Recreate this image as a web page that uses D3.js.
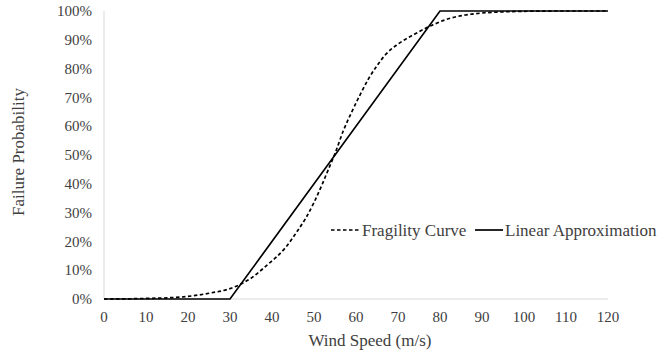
<!DOCTYPE html>
<html>
<head>
<meta charset="utf-8">
<script src="https://cdn.jsdelivr.net/npm/d3@7"></script>
<style>
  body { margin: 0; background: #fff; }
  text { font-family: "Liberation Serif", "Times New Roman", serif; fill: #404040; }
</style>
</head>
<body>
<svg id="chart" width="663" height="353"></svg>
<script>
// wind speed (m/s) and failure probability
const fragilitySpeed = [0, 5, 10, 15, 20, 25, 30, 33, 35, 37, 39, 41, 43, 46, 48, 50, 52, 54, 55, 57, 59, 61, 63, 65, 67, 70, 74, 78, 82, 86, 90, 95, 100, 110, 120];
const fragilityProb  = [0, 0.0005, 0.002, 0.004, 0.009, 0.02, 0.036, 0.055, 0.072, 0.095, 0.12, 0.145, 0.175, 0.235, 0.28, 0.335, 0.40, 0.47, 0.505, 0.585, 0.65, 0.71, 0.765, 0.81, 0.848, 0.885, 0.92, 0.95, 0.973, 0.986, 0.993, 0.997, 0.999, 1, 1];

const linearSpeed = [0, 30, 80, 120];
const linearProb  = [0, 0, 1, 1];

const xTicks = [0, 10, 20, 30, 40, 50, 60, 70, 80, 90, 100, 110, 120];
const yTicks = [0, 0.1, 0.2, 0.3, 0.4, 0.5, 0.6, 0.7, 0.8, 0.9, 1];

const svg = d3.select("#chart");
const plotLeft = 104, plotRight = 608, plotTop = 11, plotBottom = 299;

const x = d3.scaleLinear().domain([0, 120]).range([plotLeft, plotRight]);
const y = d3.scaleLinear().domain([0, 1]).range([plotBottom, plotTop]);

// axis lines
svg.append("line").attr("x1", plotLeft).attr("x2", plotLeft).attr("y1", plotTop).attr("y2", plotBottom)
   .attr("stroke", "#d9d9d9").attr("stroke-width", 1);
svg.append("line").attr("x1", plotLeft).attr("x2", plotRight).attr("y1", plotBottom).attr("y2", plotBottom)
   .attr("stroke", "#d9d9d9").attr("stroke-width", 1);

// tick labels
svg.append("g").selectAll("text").data(yTicks).enter().append("text")
   .attr("x", 92).attr("y", d => y(d)).attr("dy", "0.35em")
   .attr("text-anchor", "end").attr("font-size", 15)
   .text(d => d3.format(".0%")(d));

svg.append("g").selectAll("text").data(xTicks).enter().append("text")
   .attr("x", d => x(d)).attr("y", 322)
   .attr("text-anchor", "middle").attr("font-size", 15)
   .text(d => d);

// axis titles
svg.append("text").attr("x", 370).attr("y", 346).attr("text-anchor", "middle")
   .attr("font-size", 17).text("Wind Speed (m/s)");
svg.append("text").attr("transform", "translate(24,152) rotate(-90)")
   .attr("text-anchor", "middle").attr("font-size", 17).text("Failure Probability");

// lines
const line = d3.line().x(d => x(d[0])).y(d => y(d[1]));

svg.append("path")
   .datum(linearSpeed.map((s, i) => [s, linearProb[i]]))
   .attr("d", line)
   .attr("fill", "none").attr("stroke", "#000").attr("stroke-width", 1.7);

svg.append("path")
   .datum(fragilitySpeed.map((s, i) => [s, fragilityProb[i]]))
   .attr("d", line.curve(d3.curveMonotoneX))
   .attr("fill", "none").attr("stroke", "#000").attr("stroke-width", 1.7)
   .attr("stroke-dasharray", "3.5,2.5");

// legend
const lg = svg.append("g").attr("transform", "translate(331,230)");
lg.append("line").attr("x1", 0).attr("x2", 28).attr("y1", 0).attr("y2", 0)
  .attr("stroke", "#000").attr("stroke-width", 1.7).attr("stroke-dasharray", "3.5,2.5");
lg.append("text").attr("x", 31).attr("y", 0).attr("dy", "0.35em").attr("font-size", 17)
  .text("Fragility Curve");
lg.append("line").attr("x1", 144).attr("x2", 172).attr("y1", 0).attr("y2", 0)
  .attr("stroke", "#000").attr("stroke-width", 1.7);
lg.append("text").attr("x", 174).attr("y", 0).attr("dy", "0.35em").attr("font-size", 17)
  .text("Linear Approximation");
</script>
</body>
</html>
